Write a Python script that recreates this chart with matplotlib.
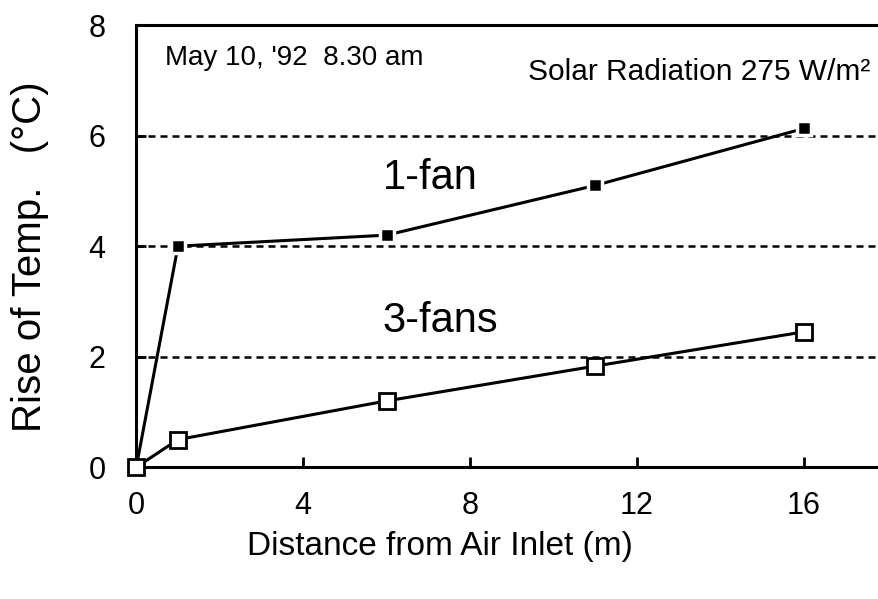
import matplotlib
matplotlib.use("Agg")
import matplotlib.pyplot as plt

plt.rcParams['font.family'] = ['Liberation Sans', 'DejaVu Sans']

# distance from air inlet (m)
distance = [0, 1, 6, 11, 16]
# rise of temperature (C)
one_fan = [0.0, 4.0, 4.2, 5.1, 6.13]
three_fans = [0.0, 0.5, 1.2, 1.83, 2.45]

x_ticks = [0, 4, 8, 12, 16]
y_ticks = [0, 2, 4, 6, 8]
grid_levels = [2, 4, 6]

fig = plt.figure(figsize=(8.79, 5.99), dpi=100)
ax = fig.add_axes([0.155, 0.22, 0.845, 0.738])

for lev in grid_levels:
    ax.axhline(lev, color='black', lw=1.8, ls=(0, (2.8, 2.0)), zorder=1)

ax.plot(distance, three_fans, color='black', lw=2.2, marker='s', markersize=12,
        markerfacecolor='white', markeredgecolor='black', markeredgewidth=2.0,
        zorder=3, clip_on=False)
ax.plot(distance, one_fan, color='black', lw=2.2, zorder=2, clip_on=False)
ax.plot(distance[1:], one_fan[1:], ls='none', marker='s', markersize=9.5,
        markerfacecolor='black', markeredgecolor='white', markeredgewidth=2.5,
        zorder=4)

ax.set_xlim(0, 17.8)
ax.set_ylim(0, 8)
ax.set_xticks(x_ticks)
ax.set_yticks(y_ticks)
ax.tick_params(direction='in', length=7, width=2, labelsize=22)
ax.tick_params(axis='x', pad=17)
ax.tick_params(axis='y', pad=22)

for side in ['left', 'bottom', 'top']:
    ax.spines[side].set_linewidth(2.2)
ax.spines['right'].set_visible(False)

fig.text(0.50, 0.087, 'Distance from Air Inlet (m)', fontsize=24,
         ha='center', va='center')
fig.text(0.034, 0.572, 'Rise of Temp.   (°C)', fontsize=29, rotation=90,
         ha='center', va='center')

ax.text(0.7, 7.4, "May 10, '92  8.30 am", fontsize=20, ha='left', va='center')
ax.text(17.6, 7.15, "Solar Radiation 275 W/m²", fontsize=21.5, ha='right', va='center')
ax.text(5.9, 5.23, '1-fan', fontsize=30, ha='left', va='center')
ax.text(5.9, 2.64, '3-fans', fontsize=30, ha='left', va='center')

fig.savefig('out.png', dpi=100)
